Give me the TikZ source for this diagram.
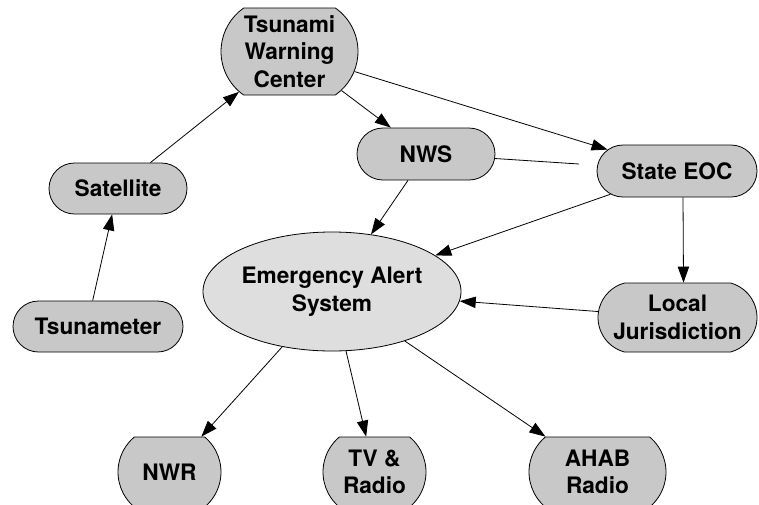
\documentclass[tikz,border=0pt]{standalone}
\usepackage{fontspec}
\setmainfont{TeX Gyre Heros}
\usetikzlibrary{shapes.misc,shapes.geometric,arrows.meta}
\definecolor{boxgray}{RGB}{200,200,200}
\definecolor{ellgray}{RGB}{222,222,222}
\tikzstyle{agency}=[rounded rectangle, draw, fill=boxgray, line width=0.6pt, inner sep=0pt, align=center, font=\bfseries\fontsize{17}{20.6}\selectfont]
\tikzstyle{hub}=[ellipse, draw, fill=ellgray, line width=0.6pt, inner sep=0pt, align=center, font=\bfseries\fontsize{17}{20.6}\selectfont]
\tikzstyle{link}=[line width=0.6pt, -{Triangle[length=12pt,width=8.5pt]}]
\newcommand{\agency}{\node[agency]}

\begin{document}
\begin{tikzpicture}[x=0.75pt,y=-0.75pt]
    \useasboundingbox (0,0) rectangle (759,504);
            \agency (twc) [minimum width=102.75pt, minimum height=65.25pt, rounded rectangle arc length=110] at (289.5,51.5) {Tsunami\\Warning\\Center};
            \agency (nws) [minimum width=103.5pt, minimum height=39pt] at (426,154) {NWS};
            \agency (seoc) [minimum width=120pt, minimum height=39pt] at (677,171) {State EOC};
            \agency (sat) [minimum width=103.5pt, minimum height=38.25pt] at (118,188.5) {Satellite};
            \agency (tsu) [minimum width=127.5pt, minimum height=38.25pt] at (98,326.5) {Tsunameter};
            \agency (lj) [minimum width=119.25pt, minimum height=51.75pt, rounded rectangle arc length=150] at (677.5,317.5) {Local\\Jurisdiction};
            \node[hub] (eas) [minimum width=193.5pt, minimum height=89.25pt] at (332,291.5) {Emergency Alert\\System};
            \agency (nwr) [minimum width=77.25pt, minimum height=52.5pt, rounded rectangle arc length=100] at (169.5,472) {NWR};
            \agency (tv) [minimum width=77.25pt, minimum height=52.5pt, rounded rectangle arc length=100] at (374.5,472) {TV \&\\Radio};
            \agency (ahab) [minimum width=102.75pt, minimum height=52.5pt, rounded rectangle arc length=100] at (597.5,472) {AHAB\\Radio};
            \coordinate (nwsend) at (579,164);
            \path[link]
                ([xshift=-4pt]tsu.north) edge (sat)
                (sat) edge (twc)
                (twc) edge (nws) edge (seoc)
                (nws) edge (eas)
                (seoc) edge (eas)
                ([xshift=4.5pt]seoc.south) edge ([xshift=4.5pt]lj.north)
                (lj) edge (eas)
                (eas) edge (nwr) edge (tv) edge (ahab)
            ;
            \draw[line width=0.6pt] (nws) -- (nwsend);
        \end{tikzpicture}
\end{document}
